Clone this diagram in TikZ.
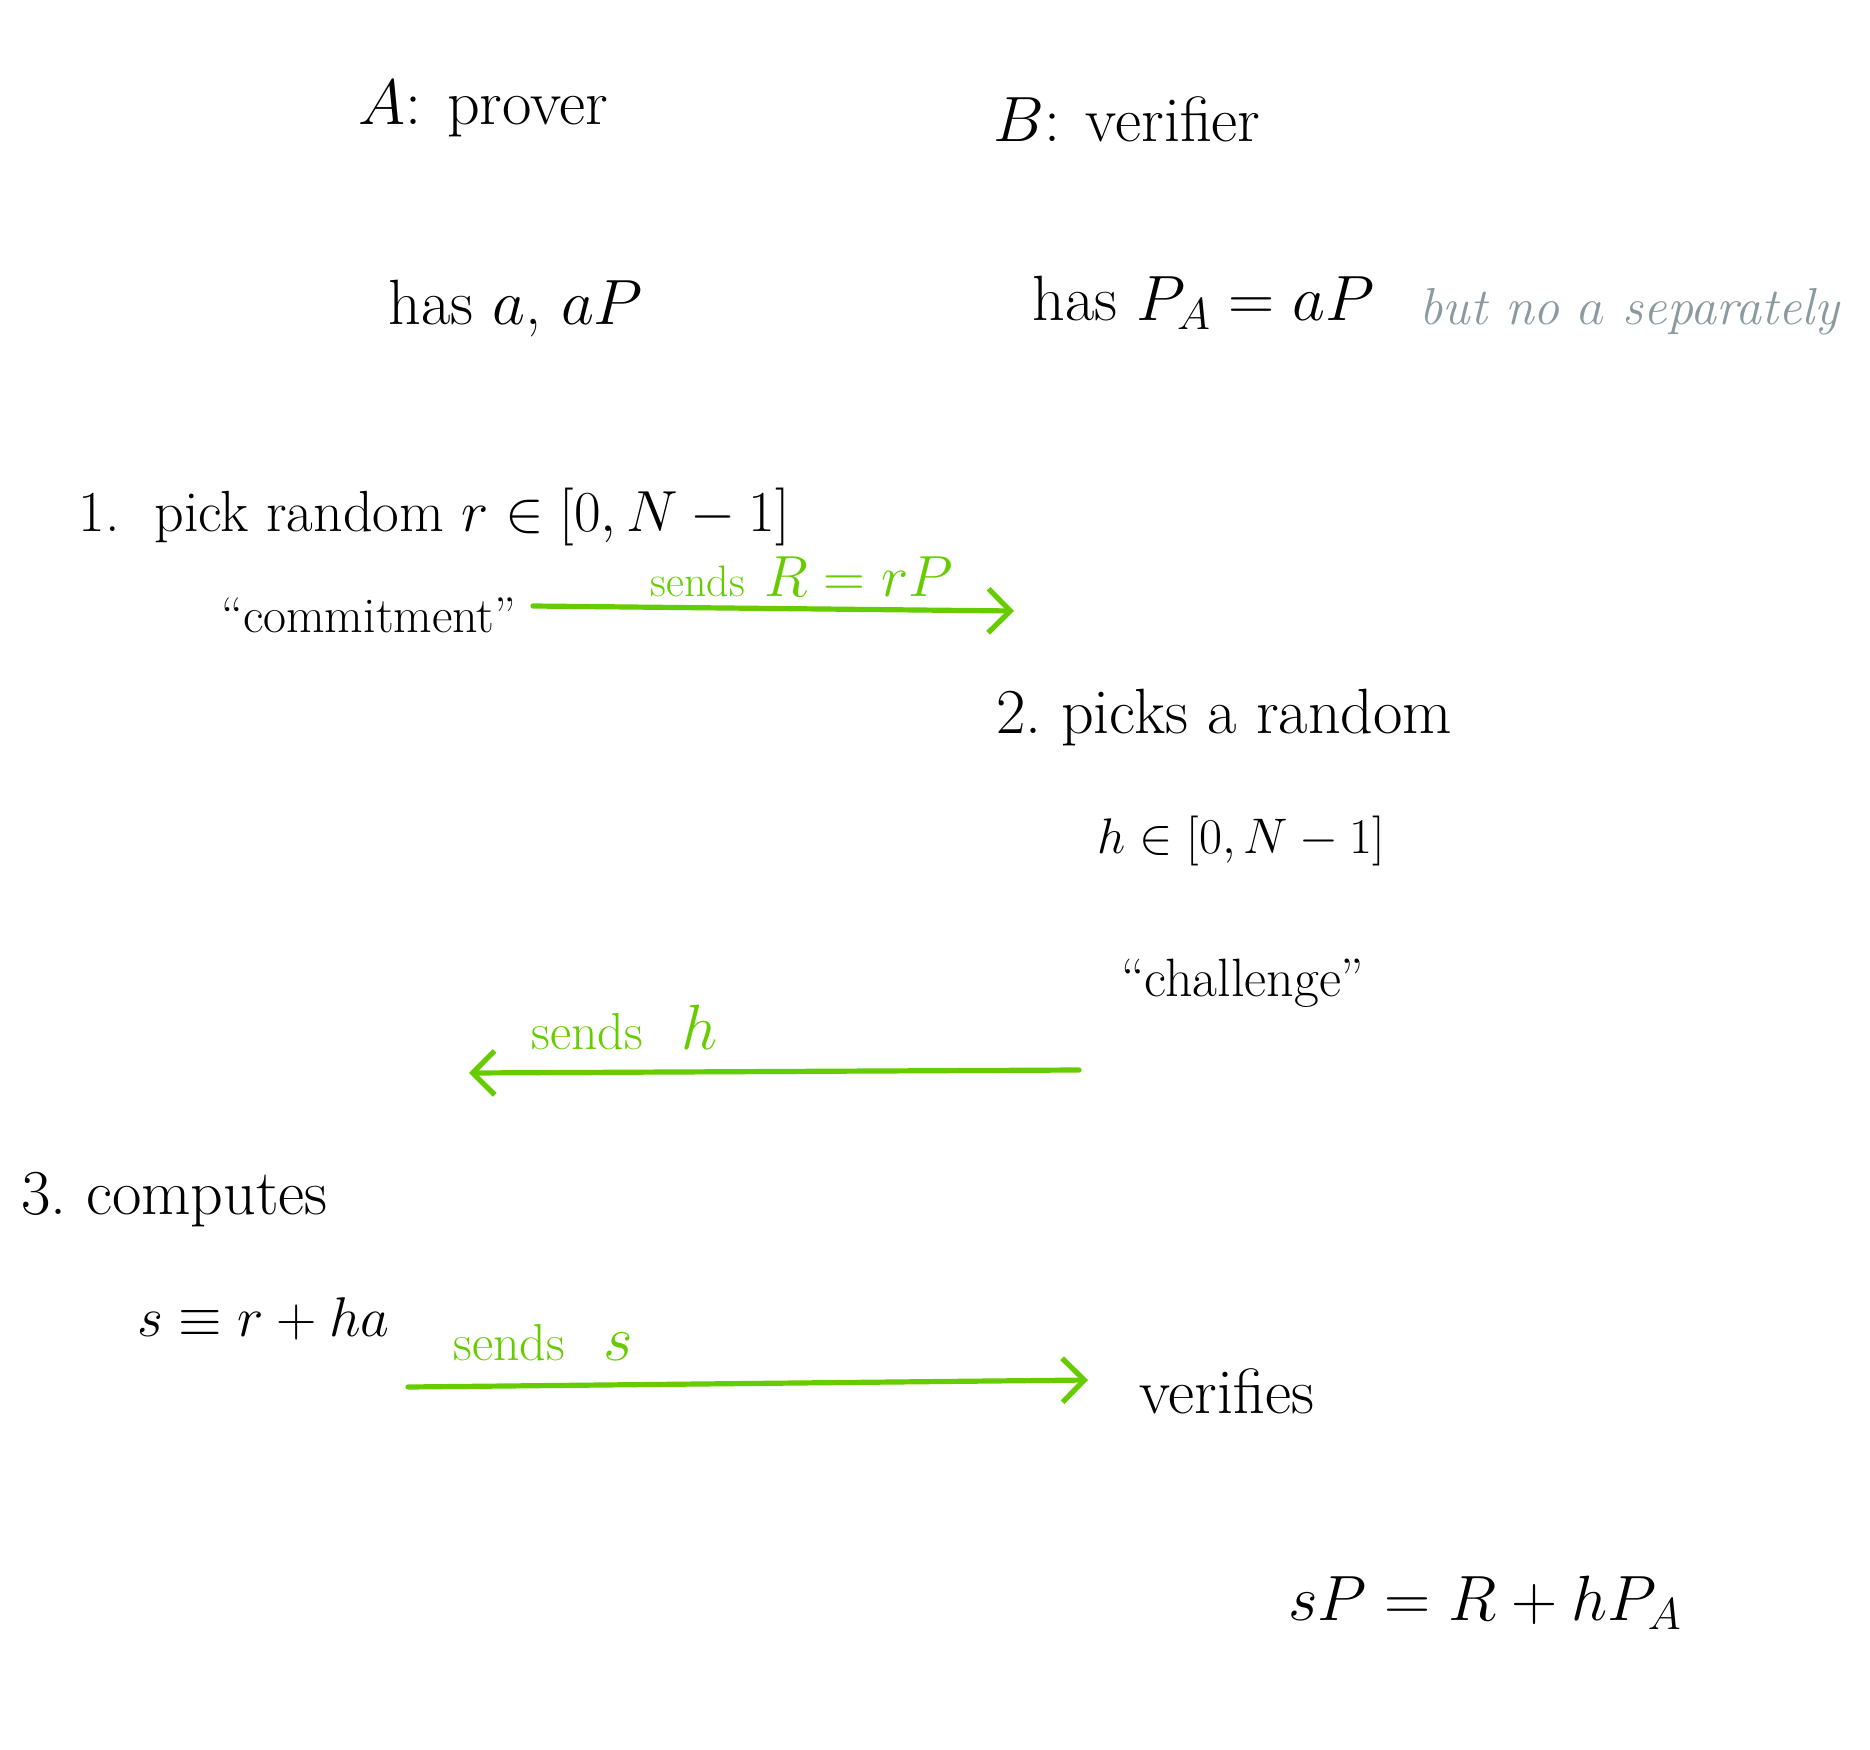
\RequirePackage{fix-cm}
\documentclass[tikz,border=0pt]{standalone}
\usetikzlibrary{arrows.meta}
\definecolor{hwgreen}{RGB}{102,204,0}
\definecolor{hwgrey}{RGB}{138,154,158}
\newcommand{\fsz}[1]{\fontsize{#1}{#1}\selectfont}
\tikzset{
  txt/.style={anchor=base west, inner sep=0pt, font=\fsz{32}},
  gtxt/.style={txt, text=hwgreen},
  greytxt/.style={txt, text=hwgrey, font=\fsz{26}\itshape},
  msg/.style={draw=hwgreen, line width=2.6pt, line cap=round, -{Straight Barb[length=11pt,width=22pt,line width=2.6pt]}}
}
\begin{document}
\begin{tikzpicture}[x=0.5pt,y=-0.5pt]
\useasboundingbox (0,0) rectangle (1870,1750);
\node[txt] (A) at (358,125) {$A$: prover};
\node[txt] (B) at (993,141) {$B$: verifier};
\node[txt] (hasA) at (388,324) {has $a$, $aP$};
\node[txt] (hasB) at (1032,320) {has $P_A = aP$};
\node[greytxt] (note) at (1419,324) {but no $a$ separately};
\node[txt, font=\fsz{29}] (s1) at (78,531) {1.\ \ pick random $r \in [0, N-1]$};
\node[txt, font=\fsz{25}] (commit) at (221,632) {``commitment''};
\node[gtxt] (sendR) at (650,596) {{\fsz{22}sends} {\fsz{29}$R = rP$}};
\node[txt] (s2) at (996,733) {2.\ picks a random};
\node[txt, font=\fsz{25}] (hin) at (1097,853) {$h \in [0, N-1]$};
\node[txt, font=\fsz{27}] (chal) at (1121,996) {``challenge''};
\node[gtxt] (sendh) at (531,1049) {{\fsz{26}sends}\ \ $h$};
\node[txt] (s3) at (21,1214) {3.\ computes};
\node[txt, font=\fsz{28}] (seq) at (137,1336) {$s \equiv r + ha$};
\node[gtxt] (sends) at (453,1360) {{\fsz{26}sends}\ \ $s$};
\node[txt] (ver) at (1139,1413) {verifies};
\node[txt] (check) at (1288,1620) {$sP = R + hP_A$};
\coordinate (a1s) at (533,606);
\coordinate (a1e) at (1014,611);
\coordinate (a2s) at (1079,1070);
\coordinate (a2e) at (469,1073);
\coordinate (a3s) at (408,1387);
\coordinate (a3e) at (1088,1380);
\draw[msg] (a1s) -- (a1e);
\draw[msg] (a2s) -- (a2e);
\draw[msg] (a3s) -- (a3e);
\end{tikzpicture}
\end{document}
